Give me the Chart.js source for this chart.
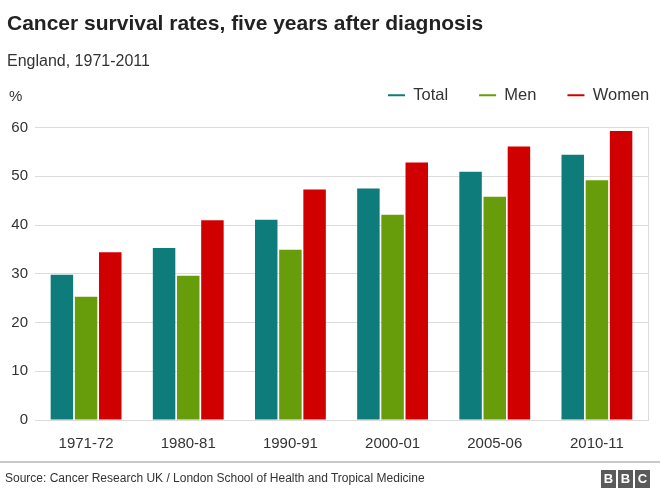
<!DOCTYPE html>
<html><head><meta charset="utf-8">
<script src="https://cdn.jsdelivr.net/npm/chart.js@4"></script>
<style>
html,body{margin:0;padding:0;background:#fff;}
body{width:660px;height:496px;position:relative;overflow:hidden;font-family:"Liberation Sans",Arial,Helvetica,sans-serif;color:#222;}
#c{position:absolute;left:0;top:0;}
.t{position:absolute;white-space:nowrap;}
#title{left:7px;top:11px;font-size:21px;font-weight:bold;color:#222;}
#sub{left:7px;top:52px;font-size:16px;color:#333;}
#pct{left:9px;top:87px;font-size:15px;color:#333;}
#rule{position:absolute;left:0;top:461px;width:660px;height:2px;background:#c8c8c8;}
#src{left:5px;top:471px;font-size:12px;color:#333;}
#bbc{position:absolute;left:601px;top:470px;display:flex;gap:2px;}
#bbc span{display:block;width:15px;height:18px;background:#5a5a5a;color:#fff;font-weight:bold;font-size:13px;line-height:18px;text-align:center;}
</style></head>
<body>
<canvas id="c" width="660" height="496"></canvas>
<div class="t" id="title">Cancer survival rates, five years after diagnosis</div>
<div class="t" id="sub">England, 1971-2011</div>
<div class="t" id="pct">%</div>
<div id="rule"></div>
<div class="t" id="src">Source: Cancer Research UK / London School of Health and Tropical Medicine</div>
<div id="bbc"><span>B</span><span>B</span><span>C</span></div>
<script>
const categories = ["1971-72","1980-81","1990-91","2000-01","2005-06","2010-11"];
const totalValues = [29.8, 35.3, 41.1, 47.5, 50.9, 54.4];
const menValues   = [25.3, 29.6, 34.9, 42.1, 45.8, 49.2];
const womenValues = [34.4, 41.0, 47.3, 52.8, 56.1, 59.3];
const seriesNames = ["Total","Men","Women"];
const seriesColors = ["#0e7c7b","#679c0a","#d10000"];
const yTicks = [0,10,20,30,40,50,60];

const font = "'Liberation Sans', Arial, Helvetica, sans-serif";
const legendPlace = {
  id: 'legendPlace',
  afterUpdate(chart) {
    const lg = chart.legend;
    if (!lg || !lg.lineWidths) return;
    lg.right = 900;
    lg.lineWidths[0] = lg.right - 388;
    const h = lg.bottom - lg.top;
    lg.top = 56; lg.bottom = 56 + h;
  }
};
new Chart(document.getElementById('c'), {
  type: 'bar',
  data: {
    labels: categories,
    datasets: [totalValues, menValues, womenValues].map((d,i)=>({
      label: seriesNames[i], data: d, backgroundColor: seriesColors[i],
      borderWidth: 0, barPercentage: 0.93, categoryPercentage: 0.71, yAxisID: 'y'
    }))
  },
  plugins: [legendPlace],
  options: {
    responsive: false, animation: false,
    layout: { padding: { top: 70, left: 0, right: 11, bottom: 0 } },
    plugins: {
      tooltip: { enabled: false },
      legend: {
        position: 'top', align: 'end',
        labels: {
          color: '#333', font: { family: font, size: 16.5 },
          usePointStyle: true, pointStyleWidth: 17, boxHeight: 14, padding: 31,
          generateLabels: (chart) => chart.data.datasets.map((ds,i)=>({
            text: ds.label, fillStyle: seriesColors[i], strokeStyle: seriesColors[i],
            lineWidth: 2, pointStyle: 'line', datasetIndex: i, hidden: false, fontColor: '#333'
          }))
        }
      }
    },
    scales: {
      x: {
        grid: { display: false, drawTicks: false },
        border: { display: false },
        ticks: { color: '#333', font: { family: font, size: 15 }, padding: 15 },
        afterFit: (s) => { s.height = 76; }
      },
      y: {
        min: 0, max: 60,
        afterBuildTicks: (s) => { s.ticks = yTicks.map(v=>({value:v})); },
        grid: { color: '#dcdcdc', lineWidth: 1, drawTicks: false },
        border: { display: false },
        ticks: { color: '#333', font: { family: font, size: 15 }, padding: 7 },
        afterFit: (s) => { s.width = 35; }
      },
      y2: {
        position: 'right', min: 0, max: 60,
        grid: { display: false, drawTicks: false },
        border: { display: true, color: '#dcdcdc', width: 1 },
        ticks: { display: false },
        afterFit: (s) => { s.width = 1; }
      }
    }
  }
});
</script>
</body></html>
